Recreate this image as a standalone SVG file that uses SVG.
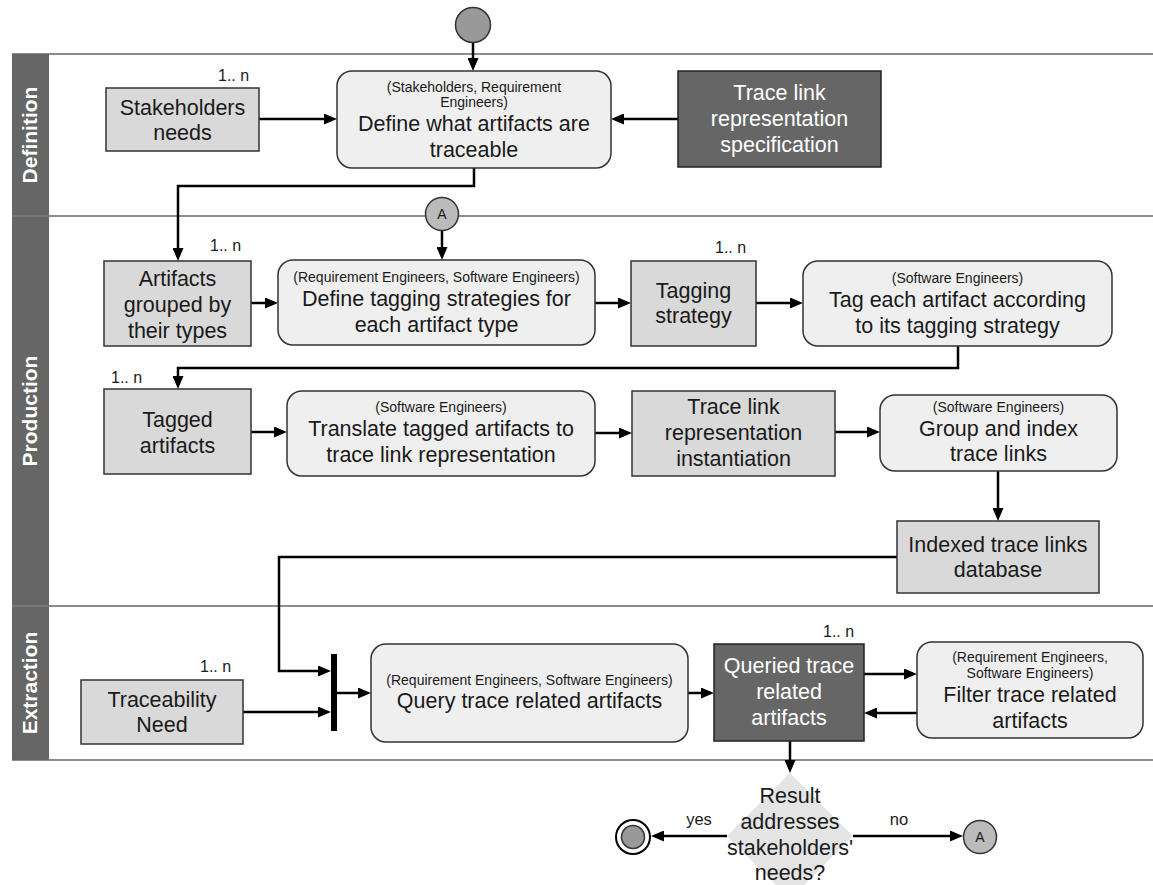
<svg xmlns="http://www.w3.org/2000/svg" width="1153" height="885" viewBox="0 0 1153 885">
  <style>
    text { font-family: "Liberation Sans", Arial, sans-serif; fill: #1a1a1a; text-anchor: middle; }
    .lane-title { font-size: 21px; font-weight: bold; fill: #ffffff; }
    .big { font-size: 21.5px; }
    .small { font-size: 14px; }
    .mult { font-size: 16px; text-anchor: start; }
    .guard { font-size: 16.5px; }
    .light { fill: #ffffff; }
    .action { fill: #efefef; stroke: #333333; stroke-width: 1.5; }
    .object { fill: #d9d9d9; stroke: #333333; stroke-width: 1.5; }
    .dark { fill: #666666; stroke: #222222; stroke-width: 1.5; }
    .lane-line { stroke: #666666; stroke-width: 1.6; fill: none; }
    .conn { fill: none; stroke: #000000; stroke-width: 2.5; marker-end: url(#arrow); }
  </style>
  <defs>
    <marker id="arrow" markerUnits="userSpaceOnUse" markerWidth="13" markerHeight="11" refX="8" refY="5.5" orient="auto">
      <path d="M0,0 L13,5.5 L0,11 z" fill="#000000"/>
    </marker>
  </defs>

  <rect width="1153" height="885" fill="#ffffff"/>

  <!-- swimlanes -->
  <g id="lanes">
    <rect x="12" y="54" width="37" height="706" fill="#666666"/>
    <line class="lane-line" x1="12" y1="54" x2="1153" y2="54"/>
    <line class="lane-line" x1="12" y1="216" x2="1153" y2="216"/>
    <line class="lane-line" x1="12" y1="606" x2="1153" y2="606"/>
    <line class="lane-line" x1="12" y1="760" x2="1153" y2="760"/>
    <line x1="12" y1="216" x2="49" y2="216" stroke="#8a8a8a" stroke-width="1.2"/>
    <line x1="12" y1="606" x2="49" y2="606" stroke="#8a8a8a" stroke-width="1.2"/>
    <text class="lane-title" transform="translate(37,135) rotate(-90)">Definition</text>
    <text class="lane-title" transform="translate(37,411) rotate(-90)">Production</text>
    <text class="lane-title" transform="translate(37,683) rotate(-90)">Extraction</text>
  </g>

  <!-- connectors -->
  <g id="connectors">
    <path class="conn" d="M473,43 V66"/>
    <path class="conn" d="M259,119 H332"/>
    <path class="conn" d="M678,119 H616"/>
    <path class="conn" d="M474,168 V186 H178 V256"/>
    <path class="conn" d="M442,231 V255"/>
    <path class="conn" d="M251,303 H273"/>
    <path class="conn" d="M595,303 H626"/>
    <path class="conn" d="M756,303 H798"/>
    <path class="conn" d="M958,346 V368 H178 V384"/>
    <path class="conn" d="M251,432 H282"/>
    <path class="conn" d="M595,433 H627"/>
    <path class="conn" d="M835,432 H875"/>
    <path class="conn" d="M998,471 V516"/>
    <path class="conn" d="M897,557 H279 V671 H326"/>
    <path class="conn" d="M243,712 H326"/>
    <path class="conn" d="M337,693 H366"/>
    <path class="conn" d="M688,693 H709"/>
    <path class="conn" d="M864,674 H912"/>
    <path class="conn" d="M917,713 H869"/>
    <path class="conn" d="M790,741 V768"/>
    <path class="conn" d="M727,836 H656"/>
    <path class="conn" d="M853,836 H958"/>
    <text class="guard" x="699" y="825">yes</text>
    <text class="guard" x="899" y="825">no</text>
  </g>

  <!-- initial node -->
  <g id="start">
    <circle cx="473" cy="25" r="17.5" fill="#999999" stroke="#333333" stroke-width="1.5"/>
  </g>

  <!-- Definition lane -->
  <g id="stakeholders-needs">
    <rect class="object" x="106" y="88" width="153" height="63"/>
    <text class="mult" x="218" y="81">1.. n</text>
    <text class="big" x="182.5" y="115">Stakeholders</text>
    <text class="big" x="182.5" y="140">needs</text>
  </g>
  <g id="define-traceable">
    <rect class="action" x="337" y="71" width="274" height="97" rx="15" ry="15"/>
    <text class="small" x="474" y="92">(Stakeholders, Requirement</text>
    <text class="small" x="474" y="107">Engineers)</text>
    <text class="big" x="474" y="131">Define what artifacts are</text>
    <text class="big" x="474" y="157">traceable</text>
  </g>
  <g id="trace-link-spec">
    <rect class="dark" x="678" y="71" width="203" height="96"/>
    <text class="big light" x="779.5" y="100">Trace link</text>
    <text class="big light" x="779.5" y="126">representation</text>
    <text class="big light" x="779.5" y="152">specification</text>
  </g>

  <!-- Production lane -->
  <g id="connector-a-top">
    <circle cx="442" cy="214" r="16.5" fill="#bbbbbb" stroke="#333333" stroke-width="1.5"/>
    <text class="small" x="442" y="219">A</text>
  </g>
  <g id="artifacts-grouped">
    <rect class="object" x="104" y="261" width="147" height="85"/>
    <text class="mult" x="210" y="251">1.. n</text>
    <text class="big" x="177.5" y="286">Artifacts</text>
    <text class="big" x="177.5" y="312">grouped by</text>
    <text class="big" x="177.5" y="338">their types</text>
  </g>
  <g id="define-tagging">
    <rect class="action" x="278" y="260" width="317" height="85" rx="15" ry="15"/>
    <text class="small" x="436.5" y="282">(Requirement Engineers, Software Engineers)</text>
    <text class="big" x="436.5" y="306">Define tagging strategies for</text>
    <text class="big" x="436.5" y="332">each artifact type</text>
  </g>
  <g id="tagging-strategy">
    <rect class="object" x="631" y="261" width="125" height="85"/>
    <text class="mult" x="715" y="253">1.. n</text>
    <text class="big" x="693.5" y="298">Tagging</text>
    <text class="big" x="693.5" y="323">strategy</text>
  </g>
  <g id="tag-each">
    <rect class="action" x="803" y="261" width="309" height="85" rx="15" ry="15"/>
    <text class="small" x="957.5" y="283">(Software Engineers)</text>
    <text class="big" x="957.5" y="307">Tag each artifact according</text>
    <text class="big" x="957.5" y="333">to its tagging strategy</text>
  </g>
  <g id="tagged-artifacts">
    <rect class="object" x="104" y="389" width="147" height="85"/>
    <text class="mult" x="111" y="383">1.. n</text>
    <text class="big" x="177.5" y="427">Tagged</text>
    <text class="big" x="177.5" y="453">artifacts</text>
  </g>
  <g id="translate">
    <rect class="action" x="287" y="391" width="308" height="85" rx="15" ry="15"/>
    <text class="small" x="441" y="412">(Software Engineers)</text>
    <text class="big" x="441" y="436">Translate tagged artifacts to</text>
    <text class="big" x="441" y="462">trace link representation</text>
  </g>
  <g id="trace-link-instantiation">
    <rect class="object" x="632" y="391" width="203" height="85"/>
    <text class="big" x="733.5" y="414">Trace link</text>
    <text class="big" x="733.5" y="440">representation</text>
    <text class="big" x="733.5" y="466">instantiation</text>
  </g>
  <g id="group-index">
    <rect class="action" x="880" y="395" width="237" height="76" rx="15" ry="15"/>
    <text class="small" x="998.5" y="412">(Software Engineers)</text>
    <text class="big" x="998.5" y="436">Group and index</text>
    <text class="big" x="998.5" y="461">trace links</text>
  </g>
  <g id="indexed-database">
    <rect class="object" x="897" y="521" width="202" height="72"/>
    <text class="big" x="998" y="552">Indexed trace links</text>
    <text class="big" x="998" y="577">database</text>
  </g>

  <!-- Extraction lane -->
  <g id="traceability-need">
    <rect class="object" x="81" y="680" width="162" height="64"/>
    <text class="mult" x="200" y="672">1.. n</text>
    <text class="big" x="162" y="707">Traceability</text>
    <text class="big" x="162" y="732">Need</text>
  </g>
  <g id="join-bar">
    <rect x="331" y="654" width="6" height="77" fill="#000000"/>
  </g>
  <g id="query">
    <rect class="action" x="371" y="644" width="317" height="98" rx="15" ry="15"/>
    <text class="small" x="529.5" y="685">(Requirement Engineers, Software Engineers)</text>
    <text class="big" x="529.5" y="708">Query trace related artifacts</text>
  </g>
  <g id="queried-artifacts">
    <rect class="dark" x="714" y="644" width="150" height="97"/>
    <text class="mult" x="823" y="637">1.. n</text>
    <text class="big light" x="789" y="673">Queried trace</text>
    <text class="big light" x="789" y="699">related</text>
    <text class="big light" x="789" y="725">artifacts</text>
  </g>
  <g id="filter">
    <rect class="action" x="917" y="642" width="226" height="96" rx="15" ry="15"/>
    <text class="small" x="1030" y="662">(Requirement Engineers,</text>
    <text class="small" x="1030" y="678">Software Engineers)</text>
    <text class="big" x="1030" y="702">Filter trace related</text>
    <text class="big" x="1030" y="728">artifacts</text>
  </g>

  <!-- decision and exits -->
  <g id="decision">
    <polygon points="790,773 853,836 790,899 727,836" fill="#e4e4e4"/>
    <text class="big" x="790" y="803">Result</text>
    <text class="big" x="790" y="829">addresses</text>
    <text class="big" x="790" y="855">stakeholders'</text>
    <text class="big" x="790" y="880">needs?</text>
  </g>
  <g id="end">
    <circle cx="633" cy="837" r="17" fill="#ffffff" stroke="#000000" stroke-width="2"/>
    <circle cx="633" cy="837" r="11.5" fill="#999999" stroke="#333333" stroke-width="1.5"/>
  </g>
  <g id="connector-a-bottom">
    <circle cx="980" cy="837" r="16.5" fill="#bbbbbb" stroke="#333333" stroke-width="1.5"/>
    <text class="small" x="980" y="842">A</text>
  </g>
</svg>
